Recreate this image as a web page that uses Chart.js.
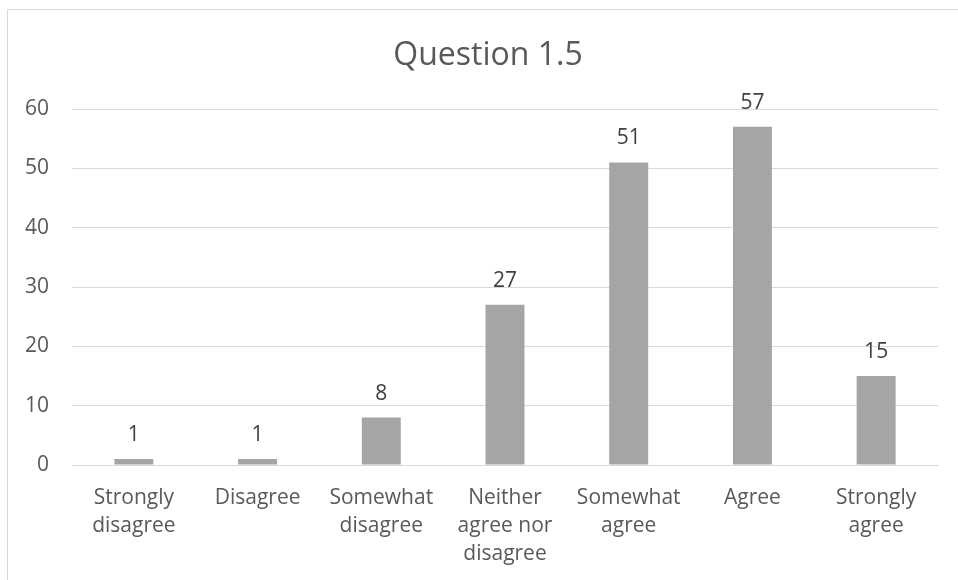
<!DOCTYPE html>
<html>
<head>
<meta charset="utf-8">
<script src="https://cdn.jsdelivr.net/npm/chart.js@4"></script>
<style>
    html, body { margin: 0; padding: 0; background: #ffffff; }
    #wrap { position: relative; width: 958px; height: 580px; overflow: hidden; }
    #frame {
        position: absolute; left: 7px; top: 9px;
        width: 1000px; height: 1000px;
        border: 1px solid #d9d9d9;
    }
    canvas { position: absolute; left: 0; top: 0; }
</style>
</head>
<body>
<div id="wrap">
    <div id="frame"></div>
    <canvas id="chart" width="958" height="580"></canvas>
</div>
<script>
// ---------- Data ----------

const titleText = "Question 1.5";
const categories = [
    ["Strongly", "disagree"],
    "Disagree",
    ["Somewhat", "disagree"],
    ["Neither", "agree nor", "disagree"],
    ["Somewhat", "agree"],
    "Agree",
    ["Strongly", "agree"]
];
const counts = [1, 1, 8, 27, 51, 57, 15];
const yTicks = [0, 10, 20, 30, 40, 50, 60];

const FONT = "'Open Sans', sans-serif";

// ---------- Title + value labels ----------

// the original chart is wider than the picture, so its title sits right of centre
const chartText = {
    id: "chartText",
    afterDatasetsDraw(chart) {
        const c = chart.ctx;
        const meta = chart.getDatasetMeta(0);
        c.save();
        c.fillStyle = "#595959";
        c.font = "32px " + FONT;
        c.textAlign = "center";
        c.textBaseline = "middle";
        c.fillText(titleText, 488, 56);

        c.font = "21px " + FONT;
        c.fillStyle = "#404040";
        c.textBaseline = "alphabetic";
        meta.data.forEach((bar, i) => {
            c.fillText(String(counts[i]), bar.x, bar.y - 18);
        });
        c.restore();
    }
};

new Chart(document.getElementById("chart"), {
    type: "bar",
    data: {
        labels: categories,
        datasets: [{
            data: counts,
            backgroundColor: "#a5a5a5",
            barPercentage: 0.315,
            categoryPercentage: 1
        }]
    },
    options: {
        responsive: false,
        animation: false,
        devicePixelRatio: 1,
        layout: { padding: { left: 0, right: 20, top: 109, bottom: 0 } },
        plugins: {
            legend: { display: false },
            tooltip: { enabled: false },
            title: { display: false }
        },
        scales: {
            x: {
                grid: { display: false, drawTicks: false },
                border: { display: true, color: "#d9d9d9", width: 1 },
                ticks: {
                    color: "#595959",
                    font: { family: FONT, size: 21, lineHeight: 1.33 },
                    padding: 19,
                    maxRotation: 0,
                    autoSkip: false
                },
                afterFit(scale) { scale.height = 115; }
            },
            y: {
                min: 0,
                max: 60,
                afterBuildTicks(scale) {
                    scale.ticks = yTicks.map(v => ({ value: v }));
                },
                grid: { color: "#d9d9d9", lineWidth: 1, drawTicks: false },
                border: { display: false },
                ticks: {
                    color: "#595959",
                    font: { family: FONT, size: 21 },
                    padding: 23
                },
                afterFit(scale) { scale.width = 72; }
            }
        }
    },
    plugins: [chartText]
});
</script>
</body>
</html>
